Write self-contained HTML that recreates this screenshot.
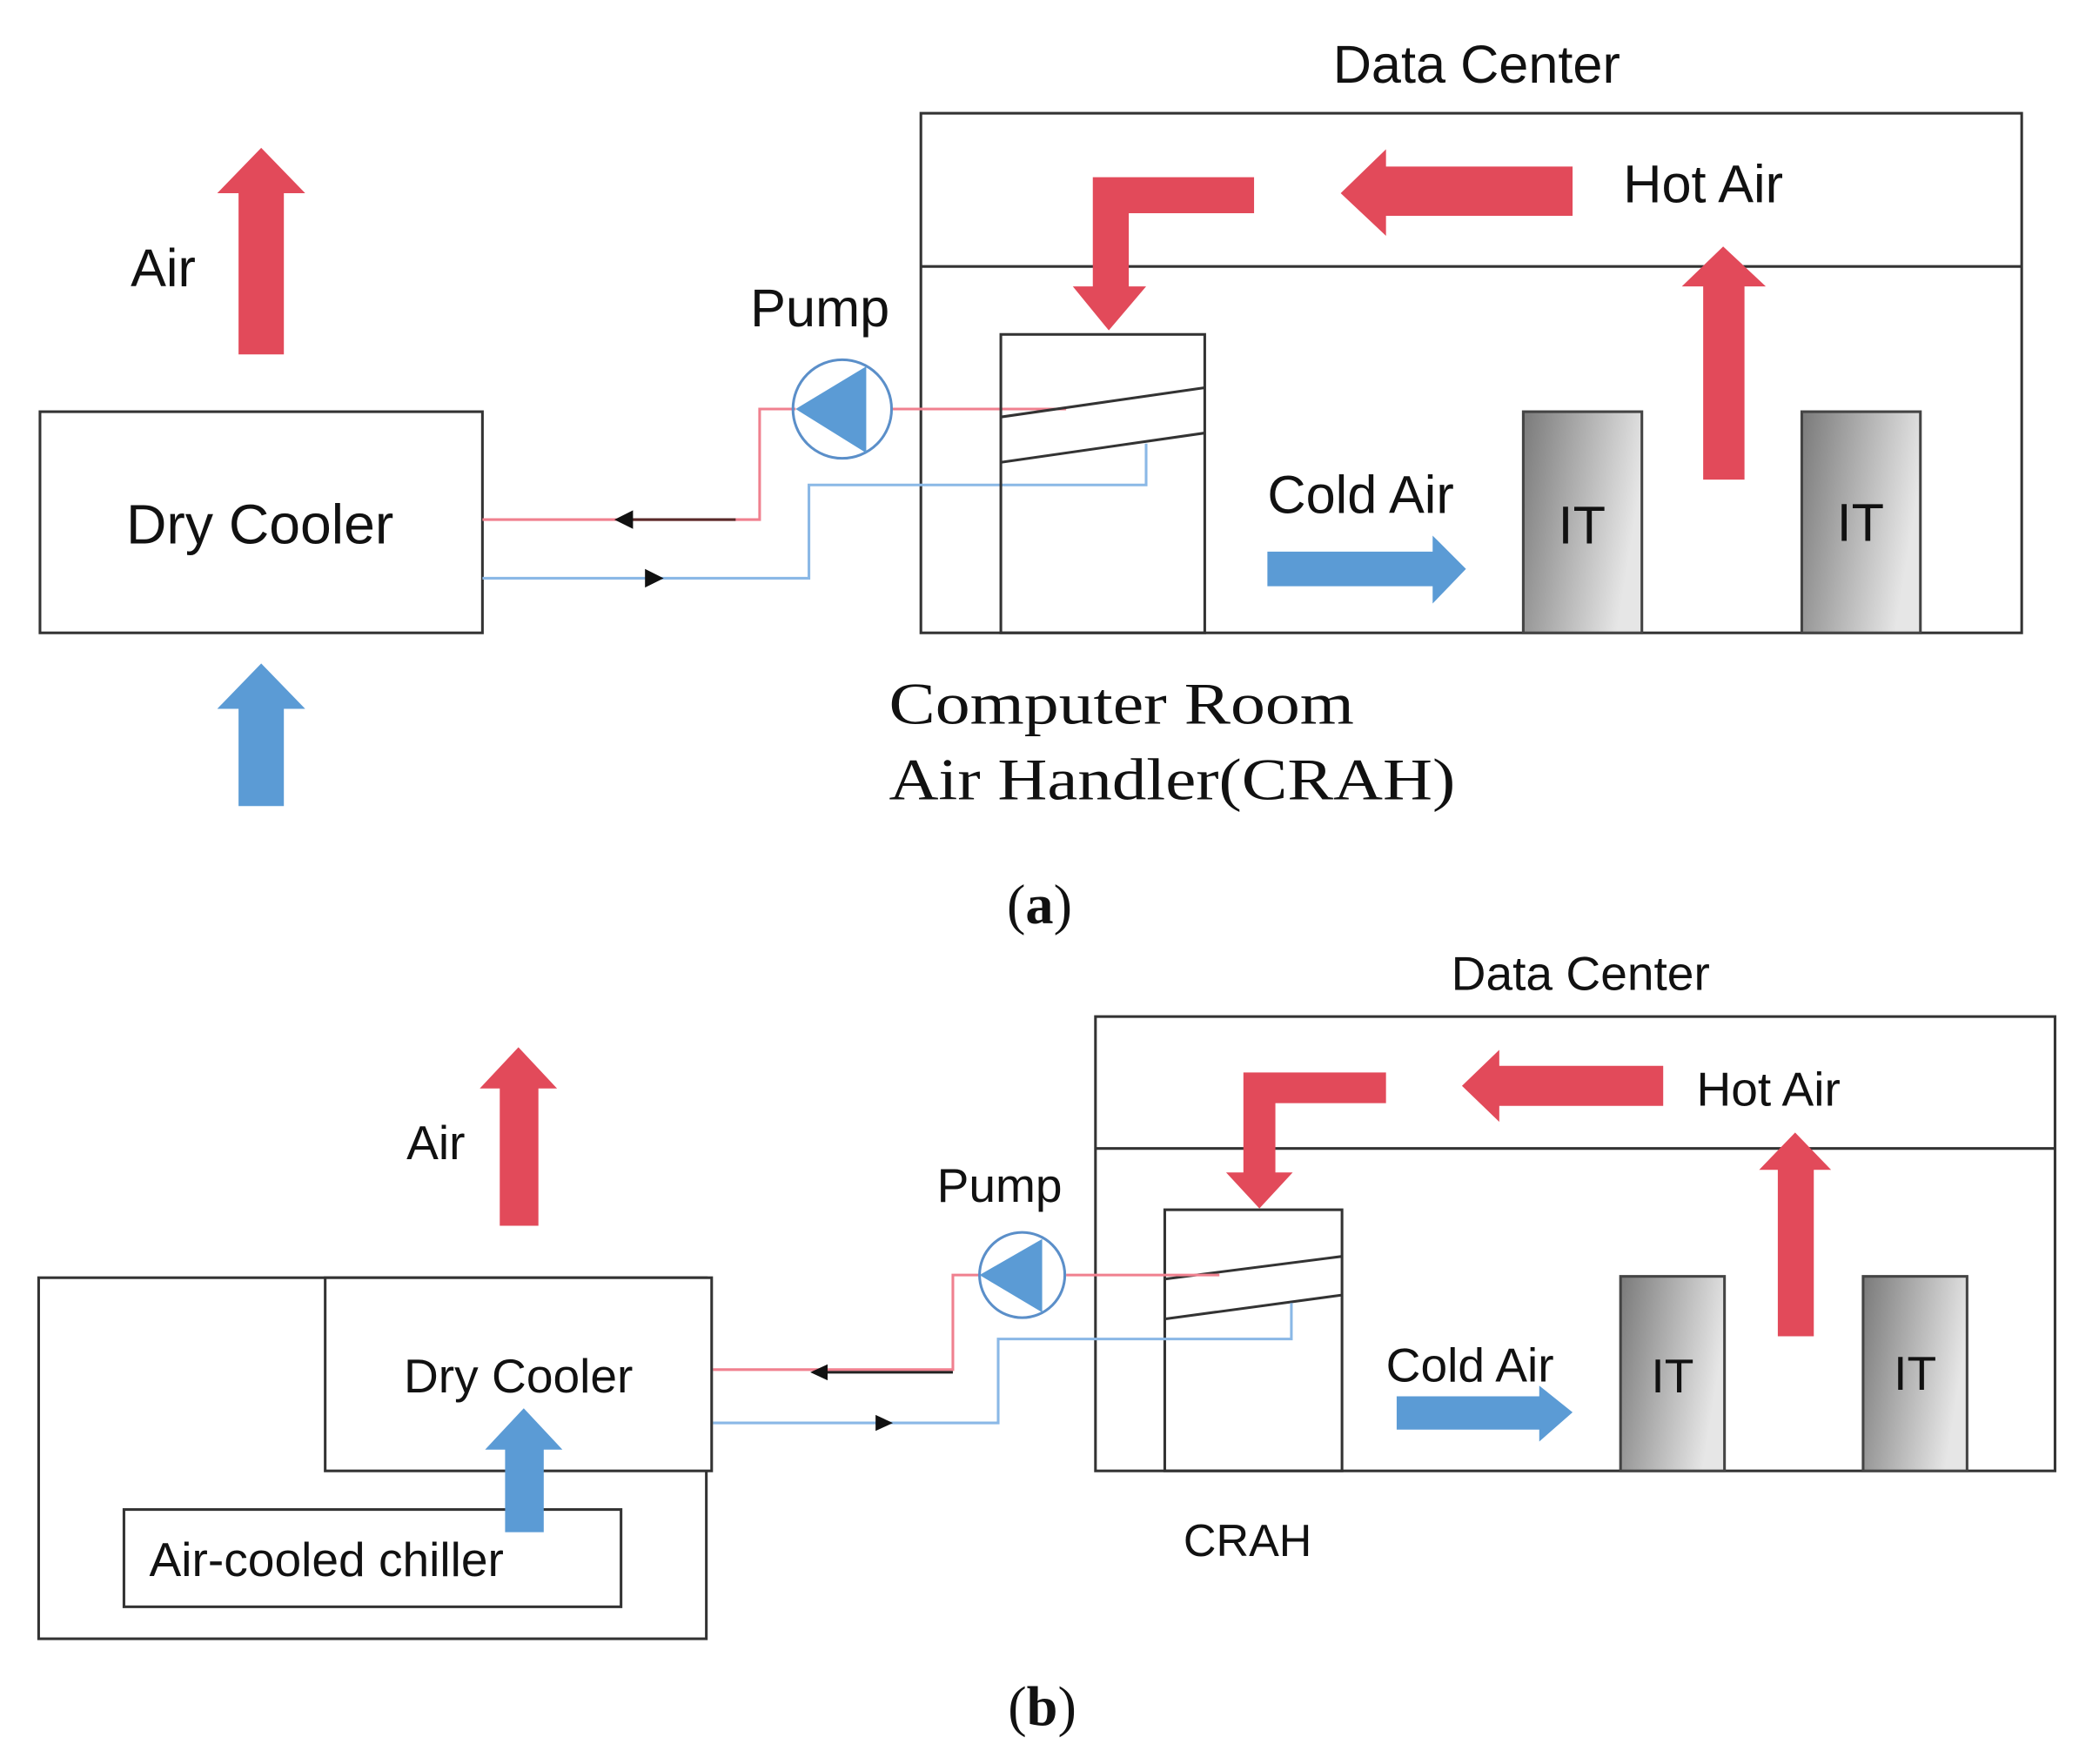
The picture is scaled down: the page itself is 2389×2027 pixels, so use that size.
<!DOCTYPE html>
<html><head><meta charset="utf-8"><style>html,body{margin:0;padding:0;background:#fff}svg{display:block}</style></head>
<body>
<svg width="2389" height="2027" viewBox="0 0 1560 1324" preserveAspectRatio="none" xmlns="http://www.w3.org/2000/svg">
<defs>
<linearGradient id="g" x1="0" x2="1" y1="0" y2="0.3"><stop offset="0" stop-color="#7a7a7a"/><stop offset="1" stop-color="#e6e6e6"/></linearGradient>
</defs>
<rect width="1560" height="1324" fill="#fff"/>
<g font-family="Liberation Sans, sans-serif" fill="#111">
<!-- (a) -->
<text x="1108" y="62" font-size="40" text-anchor="middle">Data Center</text>
<rect x="691" y="85" width="826" height="390" fill="none" stroke="#333" stroke-width="2"/>
<line x1="691" y1="200" x2="1517" y2="200" stroke="#333" stroke-width="2"/>
<rect x="30" y="309" width="332" height="166" fill="none" stroke="#333" stroke-width="2"/>
<text x="195" y="408" font-size="42" text-anchor="middle">Dry Cooler</text>
<polygon points="179,266 213,266 213,145 229,145 196,111 163,145 179,145" fill="#e24a5a"/>
<text x="98" y="215" font-size="40">Air</text>
<polygon points="179,605 213,605 213,532 229,532 196,498 163,532 179,532" fill="#5b9bd5"/>
<text x="563" y="245" font-size="40">Pump</text>
<polyline points="362,390 570,390 570,307 597,307" fill="none" stroke="#f0808f" stroke-width="2"/>
<line x1="668" y1="307" x2="800" y2="307" stroke="#f0808f" stroke-width="2"/>
<line x1="470" y1="390" x2="552" y2="390" stroke="#5a2a2a" stroke-width="2"/>
<polygon points="461,390 475,383 475,397" fill="#111"/>
<polyline points="362,434 607,434 607,364 860,364 860,333" fill="none" stroke="#8ab8e6" stroke-width="2"/>
<polygon points="498,434 484,427 484,441" fill="#111"/>
<circle cx="632" cy="307" r="37" fill="none" stroke="#5b8fc9" stroke-width="2"/>
<polygon points="597,307 650,275 650,340" fill="#5b9bd5"/>
<rect x="751" y="251" width="153" height="224" fill="none" stroke="#333" stroke-width="2"/>
<line x1="751" y1="313" x2="904" y2="291" stroke="#333" stroke-width="2"/>
<line x1="751" y1="347" x2="904" y2="325" stroke="#333" stroke-width="2"/>
<polygon points="820,133 941,133 941,160 847,160 847,215 860,215 832,248 805,215 820,215" fill="#e24a5a"/>
<polygon points="1180,125 1180,162 1040,162 1040,177 1006,145 1040,112 1040,125" fill="#e24a5a"/>
<text x="1218" y="152" font-size="40">Hot Air</text>
<polygon points="1278,360 1309,360 1309,215 1325,215 1293,185 1262,215 1278,215" fill="#e24a5a"/>
<rect x="1143" y="309" width="89" height="166" fill="url(#g)" stroke="#444" stroke-width="2"/>
<rect x="1352" y="309" width="89" height="166" fill="url(#g)" stroke="#444" stroke-width="2"/>
<text x="1187" y="408" font-size="40" text-anchor="middle">IT</text>
<text x="1396" y="406" font-size="40" text-anchor="middle">IT</text>
<text x="951" y="385" font-size="40">Cold Air</text>
<polygon points="951,414 1075,414 1075,402 1100,427 1075,453 1075,440 951,440" fill="#5b9bd5"/>
<text x="667" y="543" font-size="44" font-family="Liberation Serif, serif" textLength="349" lengthAdjust="spacingAndGlyphs">Computer Room</text>
<text x="667" y="600" font-size="44" font-family="Liberation Serif, serif" textLength="425" lengthAdjust="spacingAndGlyphs">Air Handler(CRAH)</text>
<text x="780" y="693" font-size="42" font-family="Liberation Serif, serif" text-anchor="middle">(<tspan font-weight="bold">a</tspan>)</text>
<!-- (b) -->
<text x="1186" y="743" font-size="36" text-anchor="middle">Data Center</text>
<rect x="822" y="763" width="720" height="341" fill="none" stroke="#333" stroke-width="2"/>
<line x1="822" y1="862" x2="1542" y2="862" stroke="#333" stroke-width="2"/>
<rect x="874" y="908" width="133" height="196" fill="none" stroke="#333" stroke-width="2"/>
<line x1="874" y1="960" x2="1007" y2="943" stroke="#333" stroke-width="2"/>
<line x1="874" y1="990" x2="1007" y2="972" stroke="#333" stroke-width="2"/>
<polygon points="933,805 1040,805 1040,828 957,828 957,880 970,880 945,907 920,880 933,880" fill="#e24a5a"/>
<polygon points="1248,800 1248,830 1125,830 1125,842 1097,815 1125,788 1125,800" fill="#e24a5a"/>
<text x="1273" y="830" font-size="36">Hot Air</text>
<polygon points="1334,1003 1361,1003 1361,878 1374,878 1347,850 1320,878 1334,878" fill="#e24a5a"/>
<rect x="1216" y="958" width="78" height="146" fill="url(#g)" stroke="#444" stroke-width="2"/>
<rect x="1398" y="958" width="78" height="146" fill="url(#g)" stroke="#444" stroke-width="2"/>
<text x="1255" y="1045" font-size="36" text-anchor="middle">IT</text>
<text x="1437" y="1043" font-size="36" text-anchor="middle">IT</text>
<text x="1040" y="1037" font-size="36">Cold Air</text>
<polygon points="1048,1048 1155,1048 1155,1040 1180,1060 1155,1082 1155,1073 1048,1073" fill="#5b9bd5"/>
<text x="888" y="1168" font-size="34">CRAH</text>
<text x="703" y="902" font-size="36">Pump</text>
<polyline points="535,1028 715,1028 715,957 735,957" fill="none" stroke="#f0808f" stroke-width="2"/>
<line x1="800" y1="957" x2="915" y2="957" stroke="#f0808f" stroke-width="2"/>
<line x1="615" y1="1030" x2="715" y2="1030" stroke="#222" stroke-width="2"/>
<polygon points="608,1030 621,1024 621,1036" fill="#111"/>
<polyline points="535,1068 749,1068 749,1005 969,1005 969,978" fill="none" stroke="#8ab8e6" stroke-width="2"/>
<polygon points="670,1068 657,1062 657,1074" fill="#111"/>
<circle cx="767" cy="957" r="32" fill="none" stroke="#5b8fc9" stroke-width="2"/>
<polygon points="735,957 782,930 782,985" fill="#5b9bd5"/>
<rect x="29" y="959" width="501" height="271" fill="none" stroke="#333" stroke-width="2"/>
<rect x="244" y="959" width="290" height="145" fill="#fff" stroke="#333" stroke-width="2"/>
<text x="389" y="1045" font-size="36" text-anchor="middle">Dry Cooler</text>
<rect x="93" y="1133" width="373" height="73" fill="none" stroke="#333" stroke-width="2"/>
<text x="112" y="1183" font-size="36">Air-cooled chiller</text>
<polygon points="375,920 404,920 404,817 418,817 389,786 360,817 375,817" fill="#e24a5a"/>
<text x="305" y="870" font-size="36">Air</text>
<polygon points="379,1150 408,1150 408,1088 422,1088 393,1057 364,1088 379,1088" fill="#5b9bd5"/>
<text x="782" y="1295" font-size="42" font-family="Liberation Serif, serif" text-anchor="middle">(<tspan font-weight="bold">b</tspan>)</text>
</g>
</svg>
</body></html>
